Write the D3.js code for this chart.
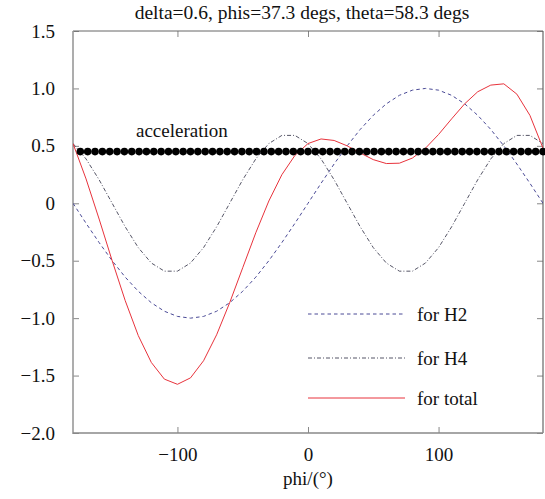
<!DOCTYPE html>
<html><head><meta charset="utf-8">
<script src="https://cdn.jsdelivr.net/npm/d3@7"></script>
<style>
body{margin:0;background:#fff}
svg{display:block}
text{font-family:"Liberation Serif","Times New Roman",serif;fill:#111}
</style>
</head><body>
<svg id="c" width="545" height="499"></svg>
<script>
const phi = [-180,-170,-160,-150,-140,-130,-120,-110,-100,-90,-80,-70,-60,-50,-40,-30,-20,-10,0,10,20,30,40,50,60,70,80,90,100,110,120,130,140,150,160,170,180];
const h2 = [0,-0.174,-0.342,-0.5,-0.643,-0.766,-0.866,-0.94,-0.985,-1.0,-0.985,-0.94,-0.866,-0.766,-0.643,-0.5,-0.342,-0.174,0,0.174,0.342,0.5,0.643,0.766,0.866,0.94,0.985,1.0,0.985,0.94,0.866,0.766,0.643,0.5,0.342,0.174,0];
const h4 = [0.52,0.386,0.205,0,-0.205,-0.386,-0.52,-0.591,-0.591,-0.52,-0.386,-0.205,0,0.205,0.386,0.52,0.591,0.591,0.52,0.386,0.205,0,-0.205,-0.386,-0.52,-0.591,-0.591,-0.52,-0.386,-0.205,0,0.205,0.386,0.52,0.591,0.591,0.52];
const total = [0.52,0.212,-0.137,-0.5,-0.848,-1.152,-1.386,-1.531,-1.576,-1.52,-1.371,-1.145,-0.866,-0.561,-0.257,0.02,0.249,0.417,0.52,0.56,0.547,0.5,0.438,0.38,0.346,0.349,0.394,0.48,0.599,0.735,0.866,0.971,1.029,1.04,0.95,0.765,0.48];
const accelPhi = [-174.375,-168.75,-163.125,-157.5,-151.875,-146.25,-140.625,-135,-129.375,-123.75,-118.125,-112.5,-106.875,-101.25,-95.625,-90,-84.375,-78.75,-73.125,-67.5,-61.875,-56.25,-50.625,-45,-39.375,-33.75,-28.125,-22.5,-16.875,-11.25,-5.625,0,5.625,11.25,16.875,22.5,28.125,33.75,39.375,45,50.625,56.25,61.875,67.5,73.125,78.75,84.375,90,95.625,101.25,106.875,112.5,118.125,123.75,129.375,135,140.625,146.25,151.875,157.5,163.125,168.75,174.375,180];
const accelVal = [0.45,0.45,0.45,0.45,0.45,0.45,0.45,0.45,0.45,0.45,0.45,0.45,0.45,0.45,0.45,0.45,0.45,0.45,0.45,0.45,0.45,0.45,0.45,0.45,0.45,0.45,0.45,0.45,0.45,0.45,0.45,0.45,0.45,0.45,0.45,0.45,0.45,0.45,0.45,0.45,0.45,0.45,0.45,0.45,0.45,0.45,0.45,0.45,0.45,0.45,0.45,0.45,0.45,0.45,0.45,0.45,0.45,0.45,0.45,0.45,0.45,0.45,0.45,0.45];
const xTicks = [-100,0,100];
const yTicks = [-2,-1.5,-1,-0.5,0,0.5,1,1.5];
const title = "delta=0.6, phis=37.3 degs, theta=58.3 degs";
const xTitle = "phi/(°)";
const accelLabel = "acceleration";
const legendLabels = ["for H2","for H4","for total"];

const FONT = "'Liberation Serif','Times New Roman',serif";
const svg = d3.select("#c");
const L=73,R=543,T=31,B=433;
const x = d3.scaleLinear().domain([-180,180]).range([L,R]);
const y = d3.scaleLinear().domain([-2,1.5]).range([B,T]);

svg.append("defs").append("clipPath").attr("id","clip")
  .append("rect").attr("x",L).attr("y",T).attr("width",R-L).attr("height",B-T);

const fmtY = d => d===0 ? "0" : d3.format(".1f")(d);

const gB = svg.append("g").attr("transform",`translate(0,${B})`)
  .call(d3.axisBottom(x).tickValues(xTicks).tickSize(-6).tickPadding(15).tickFormat(d3.format("d")));
const gL = svg.append("g").attr("transform",`translate(${L},0)`)
  .call(d3.axisLeft(y).tickValues(yTicks).tickSize(-6).tickPadding(18).tickFormat(fmtY));
const gT = svg.append("g").attr("transform",`translate(0,${T})`)
  .call(d3.axisTop(x).tickValues(xTicks).tickSize(-6).tickFormat(""));
const gR = svg.append("g").attr("transform",`translate(${R},0)`)
  .call(d3.axisRight(y).tickValues(yTicks).tickSize(-6).tickFormat(""));
[gB,gL,gT,gR].forEach(g=>{
  g.select(".domain").remove();
  g.selectAll("line").attr("stroke","#888").attr("stroke-width",1);
  g.selectAll("text").style("font-family",FONT).attr("font-size",19).attr("fill","#111");
});

svg.append("line").attr("x1",L).attr("x2",R).attr("y1",T).attr("y2",T).attr("stroke","#666").attr("stroke-width",1);
svg.append("line").attr("x1",R).attr("x2",R).attr("y1",T).attr("y2",B).attr("stroke","#666").attr("stroke-width",1.2);
svg.append("line").attr("x1",L).attr("x2",L).attr("y1",T).attr("y2",B+1).attr("stroke","#999").attr("stroke-width",1.6);
svg.append("line").attr("x1",L).attr("x2",R).attr("y1",B).attr("y2",B).attr("stroke","#888").attr("stroke-width",1.6);

const plot = svg.append("g").attr("clip-path","url(#clip)");
const mk = arr => d3.line().x((d,i)=>x(phi[i])).y(d=>y(d))(arr);

const styles = [
  {data:h2, color:"#4a4a96", dash:"3.5,3", w:1},
  {data:h4, color:"#555566", dash:"4,2,1,2", w:1},
  {data:total, color:"#e8333c", dash:null, w:1}
];
styles.forEach(s=>{
  const p = plot.append("path").attr("d",mk(s.data)).attr("fill","none")
    .attr("stroke",s.color).attr("stroke-width",s.w);
  if(s.dash) p.attr("stroke-dasharray",s.dash);
});

svg.append("g").selectAll("circle").data(accelPhi).join("circle")
  .attr("cx",d=>x(d)).attr("cy",(d,i)=>y(accelVal[i])).attr("r",3.8).attr("fill","#000");

svg.append("text").attr("x",136).attr("y",137).attr("font-size",19).style("font-family",FONT).text(accelLabel);

const legY = [314,358,398];
styles.forEach((s,i)=>{
  const ln = svg.append("line").attr("x1",308).attr("x2",405).attr("y1",legY[i]).attr("y2",legY[i])
    .attr("stroke",s.color).attr("stroke-width",s.w);
  if(s.dash) ln.attr("stroke-dasharray",s.dash);
  svg.append("text").attr("x",417).attr("y",legY[i]+7).attr("font-size",19).style("font-family",FONT).text(legendLabels[i]);
});

svg.append("text").attr("x",302).attr("y",19).attr("text-anchor","middle").attr("font-size",19.5).style("font-family",FONT).text(title);
svg.append("text").attr("x",308).attr("y",485).attr("text-anchor","middle").attr("font-size",19).style("font-family",FONT).text(xTitle);
</script>
</body></html>
